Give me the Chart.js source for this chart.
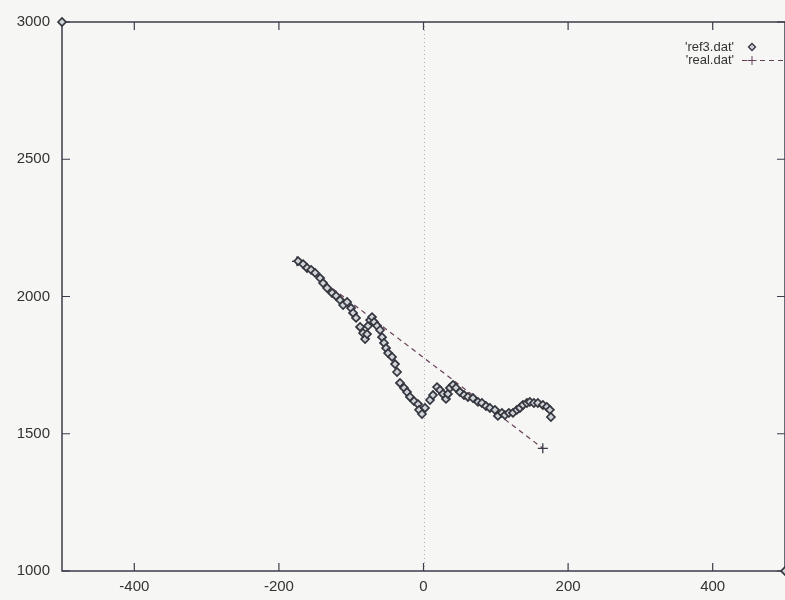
<!DOCTYPE html>
<html lang="en">
<head>
  <meta charset="UTF-8">
  <title>ref3 vs real</title>
  <style>
    html, body { margin: 0; padding: 0; background: #f6f6f4; }
    #chart { display: block; }
  </style>
</head>
<body>
<canvas id="chart" width="785" height="600"></canvas>

<script src="https://cdn.jsdelivr.net/npm/chart.js"></script>
<script>
  // values
  const refX = [-500, -173.4, -166.5, -161, -155.4, -149.9, -143, -138.9, -133.3, -126.4, -120.9,
    -115.4, -111.2, -105.7, -100.2, -97.4, -93.3, -87.7, -83.6, -80.8, -78.1,
    -76.7, -73.9, -71.2, -68.4, -64.2, -60.1, -57.3, -54.6, -51.8, -49,
    -43.5, -39.4, -36.6, -32.5, -26.9, -22.8, -18.7, -13.1, -7.6, -6.2,
    -2.1, 2.1, 9, 13.1, 18.7, 22.8, 26.9, 31.1, 33.8, 36.6,
    40.8, 44.9, 50.4, 56, 61.5, 68.4, 75.3, 80.8, 86.4, 91.9,
    98.8, 102.9, 108.5, 112.6, 118.1, 123.7, 129.2, 133.3, 137.5, 143,
    147.1, 152.7, 158.2, 165.1, 170.6, 174.8, 176.2, 500];
  const refY = [3000, 2129, 2118, 2104, 2097, 2086, 2067, 2049, 2031, 2013, 2002,
    1987, 1969, 1980, 1958, 1940, 1922, 1889, 1867, 1845, 1863,
    1893, 1914, 1925, 1907, 1893, 1878, 1852, 1831, 1812, 1794,
    1780, 1754, 1725, 1685, 1667, 1652, 1634, 1619, 1608, 1587,
    1572, 1594, 1623, 1641, 1670, 1659, 1645, 1627, 1645, 1667,
    1678, 1667, 1652, 1641, 1634, 1630, 1616, 1612, 1601, 1594,
    1587, 1565, 1576, 1568, 1576, 1576, 1587, 1594, 1605, 1612,
    1616, 1612, 1612, 1605, 1598, 1587, 1561, 1000];
  const realX = [-175, 165];
  const realY = [2128, 1447];
  const xTicks = [-400, -200, 0, 200, 400];
  const yTicks = [1000, 1500, 2000, 2500, 3000];

  const toPoints = (xs, ys) => xs.map((x, i) => ({ x: x, y: ys[i] }));

  const axisColor = '#3d3d4b';
  const tickFont = { family: 'Liberation Sans, Arial, sans-serif', size: 15 };

  // gnuplot style box with inward ticks, dotted zero axis and key
  const gnuplotFrame = {
    id: 'gnuplotFrame',
    beforeDatasetsDraw(chart) {
      const { ctx, chartArea: a, scales } = chart;
      ctx.save();
      // zero axis
      ctx.strokeStyle = '#b0b0b8';
      ctx.lineWidth = 1;
      ctx.setLineDash([1, 3]);
      const x0 = Math.round(scales.x.getPixelForValue(0)) + 0.5;
      ctx.beginPath();
      ctx.moveTo(x0, a.top);
      ctx.lineTo(x0, a.bottom);
      ctx.stroke();
      ctx.setLineDash([]);

      // border
      ctx.strokeStyle = axisColor;
      ctx.lineWidth = 1.5;
      ctx.strokeRect(a.left, a.top, a.right - a.left, a.bottom - a.top);

      // inward ticks
      ctx.lineWidth = 1.2;
      const len = 8;
      ctx.beginPath();
      xTicks.forEach(v => {
        const px = scales.x.getPixelForValue(v);
        ctx.moveTo(px, a.bottom); ctx.lineTo(px, a.bottom - len);
        ctx.moveTo(px, a.top); ctx.lineTo(px, a.top + len);
      });
      yTicks.forEach(v => {
        const py = scales.y.getPixelForValue(v);
        ctx.moveTo(a.left, py); ctx.lineTo(a.left + len, py);
        ctx.moveTo(a.right, py); ctx.lineTo(a.right - len, py);
      });
      ctx.stroke();
      ctx.restore();
    },
    afterDraw(chart) {
      const { ctx } = chart;
      const ds = chart.data.datasets;
      ctx.save();
      ctx.font = '13px Liberation Sans, Arial, sans-serif';
      ctx.fillStyle = '#333';
      ctx.textAlign = 'right';
      ctx.textBaseline = 'middle';

      // ref3.dat
      ctx.fillText(ds[0].label, 734, 47);
      ctx.strokeStyle = ds[0].borderColor;
      ctx.fillStyle = ds[0].backgroundColor;
      ctx.lineWidth = 1.3;
      ctx.beginPath();
      ctx.moveTo(752, 43.5); ctx.lineTo(755.5, 47); ctx.lineTo(752, 50.5); ctx.lineTo(748.5, 47);
      ctx.closePath();
      ctx.fill();
      ctx.stroke();

      // real.dat
      ctx.fillStyle = '#333';
      ctx.fillText(ds[1].label, 734, 60);
      ctx.strokeStyle = ds[1].borderColor;
      ctx.lineWidth = 1;
      ctx.setLineDash(ds[1].borderDash);
      ctx.beginPath();
      ctx.moveTo(742, 60.5); ctx.lineTo(785, 60.5);
      ctx.stroke();
      ctx.setLineDash([]);
      ctx.beginPath();
      ctx.moveTo(752, 56); ctx.lineTo(752, 65);
      ctx.moveTo(747.5, 60.5); ctx.lineTo(756.5, 60.5);
      ctx.stroke();
      ctx.restore();
    }
  };

  new Chart(document.getElementById('chart'), {
    type: 'scatter',
    data: {
      datasets: [{
        label: "'ref3.dat'",
        data: toPoints(refX, refY),
        pointStyle: 'rectRot',
        pointRadius: 4,
        borderWidth: 1.7,
        borderColor: '#34343f',
        backgroundColor: '#cfd5d6',
        showLine: false,
        clip: false
      }, {
        label: "'real.dat'",
        data: toPoints(realX, realY),
        showLine: true,
        borderColor: '#6a3f5a',
        borderWidth: 1.2,
        borderDash: [5, 4],
        pointStyle: 'cross',
        pointRadius: 5,
        pointBorderWidth: 1.3,
        pointBorderColor: '#3a3a48',
        backgroundColor: '#6a3f5a'
      }]
    },
    options: {
      responsive: false,
      animation: false,
      devicePixelRatio: 1,
      layout: { autoPadding: false, padding: { top: 22, right: 0, left: 0, bottom: 0 } },
      plugins: {
        legend: { display: false },
        tooltip: { enabled: false }
      },
      scales: {
        x: {
          type: 'linear',
          min: -500,
          max: 500,
          grid: { display: false, drawTicks: false },
          border: { display: false },
          afterBuildTicks: s => { s.ticks = xTicks.map(v => ({ value: v })); },
          afterFit: s => { s.height = 29; s.paddingLeft = 0; s.paddingRight = 0; },
          ticks: { color: '#333', font: tickFont, padding: 7, maxRotation: 0 }
        },
        y: {
          type: 'linear',
          min: 1000,
          max: 3000,
          grid: { display: false, drawTicks: false },
          border: { display: false },
          afterBuildTicks: s => { s.ticks = yTicks.map(v => ({ value: v })); },
          afterFit: s => { s.width = 62; s.paddingTop = 0; s.paddingBottom = 0; },
          ticks: { color: '#333', font: tickFont, padding: 12, callback: v => String(v) }
        }
      }
    },
    plugins: [gnuplotFrame]
  });
</script>
</body>
</html>
